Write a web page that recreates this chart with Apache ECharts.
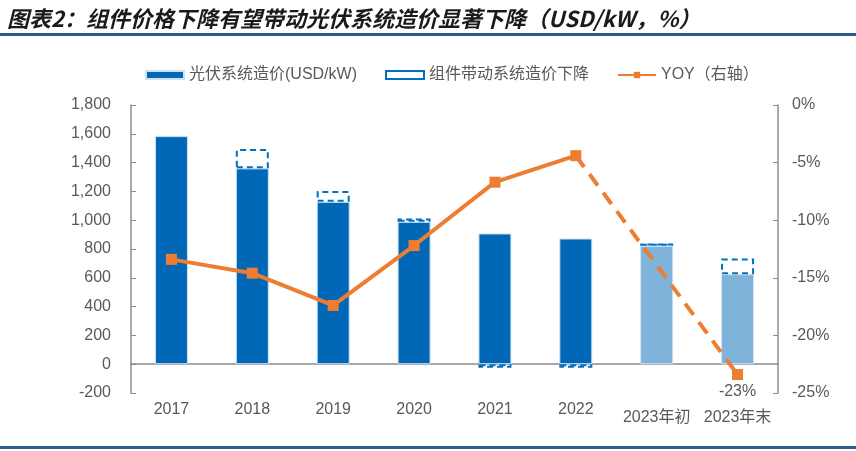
<!DOCTYPE html>
<html>
<head>
<meta charset="utf-8">
<script src="https://cdn.jsdelivr.net/npm/echarts@6/dist/echarts.min.js"></script>
<style>
html,body{margin:0;padding:0;background:#fff;}
#c{width:856px;height:451px;}
</style>
</head>
<body>
<div id="c"></div>
<script>
const categories = ['2017','2018','2019','2020','2021','2022','2023年初','2023年末'];
const systemCost = [1584, 1360, 1128, 989, 908, 873, 822, 625];
const moduleDecline = [null, 134, 74, 23, -25, -25, 17, 109];
const yoyActual = [-13.4, -14.6, -17.4, -12.2, -6.7, -4.4, null, null];
const yoyForecast = [null, null, null, null, null, -4.4, null, -23.4];
const leftTicks = {min: -200, max: 1800, interval: 200};
const rightTicks = {min: -25, max: 0, interval: 5};
const seriesNames = ['光伏系统造价(USD/kW)', '组件带动系统造价下降', 'YOY（右轴）'];

const FONT = "'Liberation Sans', 'Noto Sans CJK SC', sans-serif";
const GREY = '#595959';
const AXIS = '#8c8c8c';
const DARK = '#0068b7';
const LIGHT = '#7fb3da';
const ORANGE = '#ed7d31';
const forecastStart = 6;

const chart = echarts.init(document.getElementById('c'), null, {renderer: 'canvas'});
chart.setOption({
  animation: false,
  backgroundColor: '#fff',
  textStyle: {fontFamily: FONT},
  title: {
    text: '图表2：组件价格下降有望带动光伏系统造价显著下降（USD/kW，%）',
    left: 2, top: 3,
    textStyle: {fontFamily: "'Noto Sans CJK SC', sans-serif", fontSize: 22, fontStyle: 'italic', fontWeight: 'bold', color: '#1a1a1a'}
  },
  graphic: [
    {type: 'rect', left: 0, top: 33, shape: {width: 856, height: 3}, style: {fill: '#2b5c8a'}},
    {type: 'rect', left: 0, top: 446, shape: {width: 856, height: 3}, style: {fill: '#2b5c8a'}}
  ],
  legend: {
    left: 140, top: 62,
    itemWidth: 38, itemHeight: 8, itemGap: 28,
    textStyle: {fontSize: 16, color: GREY, fontFamily: FONT},
    data: [
      {name: seriesNames[0], icon: 'rect'},
      {name: seriesNames[1], icon: 'rect'},
      {name: seriesNames[2]}
    ]
  },
  grid: {left: 131, right: 78, top: 105, bottom: 58, containLabel: false, outerBoundsMode: 'none'},
  xAxis: {
    type: 'category',
    data: categories,
    axisLine: {onZero: true, lineStyle: {color: AXIS, width: 1.5}},
    axisTick: {inside: true, length: 5, lineStyle: {color: AXIS}},
    axisLabel: {
      interval: 0, hideOverlap: false,
      margin: 9, fontSize: 16, color: GREY, fontFamily: FONT,
      formatter: v => v.indexOf('年') >= 0 ? '{b|' + v + '}' : v,
      rich: {b: {fontSize: 16, color: GREY, fontFamily: FONT, padding: [8, 0, 0, 0]}}
    }
  },
  yAxis: [
    {
      type: 'value', min: leftTicks.min, max: leftTicks.max, interval: leftTicks.interval,
      axisLine: {show: true, lineStyle: {color: AXIS, width: 1.5}},
      axisTick: {show: true, inside: true, length: 5, lineStyle: {color: AXIS}},
      splitLine: {show: false},
      axisLabel: {fontSize: 16, color: GREY, margin: 20, fontFamily: FONT, formatter: v => v.toLocaleString('en-US')}
    },
    {
      type: 'value', min: rightTicks.min, max: rightTicks.max, interval: rightTicks.interval,
      position: 'right',
      axisLine: {show: true, lineStyle: {color: AXIS, width: 1.5}},
      axisTick: {show: true, inside: true, length: 5, lineStyle: {color: AXIS}},
      splitLine: {show: false},
      axisLabel: {fontSize: 16, color: GREY, margin: 14, fontFamily: FONT, formatter: '{value}%'}
    }
  ],
  series: [
    {
      name: seriesNames[0], type: 'bar', stack: 'cost', barWidth: 33,
      itemStyle: {color: DARK, borderColor: '#cfe2f3', borderWidth: 1},
      data: systemCost.map((v, i) => i >= forecastStart ? {value: v, itemStyle: {color: LIGHT}} : v)
    },
    {
      name: seriesNames[1], type: 'bar', stack: 'cost', barWidth: 33,
      itemStyle: {color: 'rgba(255,255,255,0)', borderColor: '#0070c0', borderWidth: 2, borderType: [6, 4]},
      data: moduleDecline
    },
    {
      name: seriesNames[2], type: 'line', yAxisIndex: 1,
      symbol: 'rect', symbolSize: 11,
      itemStyle: {color: ORANGE},
      lineStyle: {color: ORANGE, width: 4},
      data: yoyActual, z: 5
    },
    {
      name: 'yoy-forecast', type: 'line', yAxisIndex: 1,
      connectNulls: true,
      symbol: 'rect', symbolSize: 11,
      itemStyle: {color: ORANGE},
      lineStyle: {color: ORANGE, width: 4, type: [14, 9]},
      data: yoyForecast.map((v, i) => {
        if (v === null) return null;
        if (i === yoyForecast.length - 1) {
          return {value: v, label: {show: true, position: 'bottom', distance: 4, fontSize: 16, color: GREY, fontFamily: FONT, formatter: p => Math.round(p.value) + '%'}};
        }
        return {value: v, symbol: 'none'};
      }),
      z: 4
    }
  ]
});
</script>
</body>
</html>
